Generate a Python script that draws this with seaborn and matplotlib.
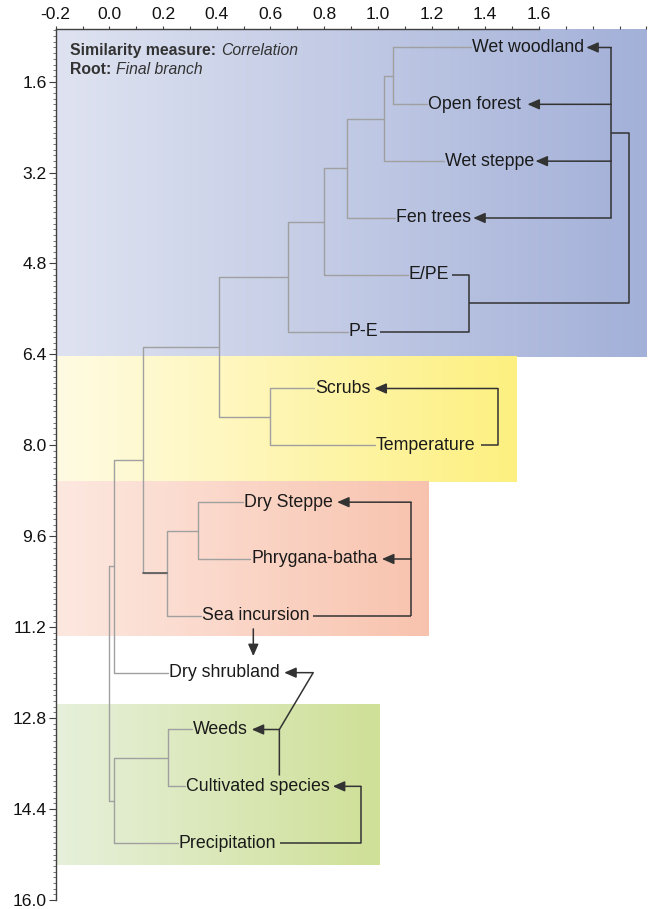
import numpy as np
import pandas as pd
import matplotlib
matplotlib.use("Agg")
import matplotlib.pyplot as plt
from matplotlib.ticker import MultipleLocator, FormatStrFormatter
import seaborn as sns

# Leaves of the dendrogram (top to bottom)
leaf_labels = ["Wet woodland", "Open forest", "Wet steppe", "Fen trees", "E/PE", "P-E",
               "Scrubs", "Temperature", "Dry Steppe", "Phrygana-batha", "Sea incursion",
               "Dry shrubland", "Weeds", "Cultivated species", "Precipitation"]
leaf_pos = [1, 2, 3, 4, 5, 6, 7, 8, 9, 10, 11, 12, 13, 14, 15]
leaf_tip = [1.347, 1.184, 1.247, 1.064, 1.111, 0.888, 0.763, 0.989, 0.496, 0.524,
            0.341, 0.219, 0.306, 0.281, 0.254]

# Merges: (child a, child b, similarity level); new nodes get ids 15, 16, ...
merge_a = [0, 15, 16, 17, 18, 6, 19, 8, 22, 21, 24, 12, 26, 25]
merge_b = [1, 2, 3, 4, 5, 7, 20, 9, 10, 23, 11, 13, 14, 27]
merge_h = [1.055, 1.024, 0.884, 0.800, 0.666, 0.600, 0.410, 0.330, 0.213, 0.124,
           0.018, 0.218, 0.018, 0.000]

# Shaded groups
band_top = [0.68, 6.44, 8.65, 12.55]
band_bottom = [6.44, 8.65, 11.36, 15.38]
band_right = [2.0, 1.514, 1.188, 1.005]
band_left_color = ["#dfe3f1", "#fffbe3", "#fde8e0", "#e6f0db"]
band_right_color = ["#a3b0d8", "#fdf080", "#f8c3ae", "#cfe097"]

x_ticks = [-0.2, 0.0, 0.2, 0.4, 0.6, 0.8, 1.0, 1.2, 1.4, 1.6]
y_ticks = [1.6, 3.2, 4.8, 6.4, 8.0, 9.6, 11.2, 12.8, 14.4, 16.0]

sns.set_theme(style="white")
plt.rcParams["font.family"] = ["Liberation Sans", "DejaVu Sans"]

fig = plt.figure(figsize=(6.49, 9.09), dpi=100)
ax = fig.add_axes([55.7 / 649, 9 / 909, (646.4 - 55.7) / 649, (900 - 29.3) / 909])

# Gradient bands
for y0, y1, xr, cl, cr in zip(band_top, band_bottom, band_right, band_left_color, band_right_color):
    c0 = np.array(matplotlib.colors.to_rgb(cl))
    c1 = np.array(matplotlib.colors.to_rgb(cr))
    t = np.linspace(0, 1, 256)[:, None]
    grad = (c0 * (1 - t) + c1 * t)[None, :, :]
    ax.imshow(grad, extent=[-0.2, xr, y1, y0], aspect="auto", zorder=0,
              interpolation="bilinear")

# Build dendrogram geometry
node_x = list(leaf_tip)
node_y = list(map(float, leaf_pos))
rows = []
for k, (a, b, h) in enumerate(zip(merge_a, merge_b, merge_h)):
    pts = [(node_x[a], node_y[a]), (h, node_y[a]), (h, node_y[b]), (node_x[b], node_y[b])]
    for i, (px, py) in enumerate(pts):
        rows.append({"x": px, "y": py, "seg": k, "order": i})
    node_x.append(h)
    node_y.append((node_y[a] + node_y[b]) / 2)
tree = pd.DataFrame(rows)

sns.lineplot(data=tree, x="x", y="y", units="seg", estimator=None, sort=False,
             color="#a0a0a0", lw=1.0, ax=ax, zorder=2, legend=False)

# Emphasised link between the dry-steppe cluster and its parent
dark = pd.DataFrame({"x": [node_x[24], node_x[23]], "y": [node_y[23], node_y[23]]})
sns.lineplot(data=dark, x="x", y="y", estimator=None, sort=False, color="#606060",
             lw=1.3, ax=ax, zorder=3)

# Leaf labels
for lab, tip, pos in zip(leaf_labels, leaf_tip, leaf_pos):
    ax.text(tip + 0.004, pos, lab, ha="left", va="center", fontsize=12.8,
            color="#1a1a1a", zorder=4)

# Relationship arrows and brackets
ink = "#333333"
line_kw = dict(color=ink, lw=1.1, zorder=3, solid_capstyle="butt")


def arrow(x0, y0, x1, y1):
    ax.annotate("", xy=(x1, y1), xytext=(x0, y0),
                arrowprops=dict(arrowstyle="-|>,head_length=0.55,head_width=0.24",
                                color=ink, lw=1.1, mutation_scale=13,
                                shrinkA=0, shrinkB=0), zorder=4)


brackets = [
    ([1.869, 1.869], [1.0, 4.0]),
    ([1.869, 1.936, 1.936, 1.34], [2.5, 2.5, 5.5, 5.5]),
    ([1.275, 1.34, 1.34, 1.008], [5.0, 5.0, 6.0, 6.0]),
    ([1.385, 1.446, 1.446], [8.0, 8.0, 7.0]),
    ([1.124, 1.124], [9.0, 11.0]),
    ([0.76, 1.124], [11.0, 11.0]),
    ([0.759, 0.633, 0.633], [12.0, 13.0, 13.81]),
    ([0.635, 0.937, 0.937], [15.0, 15.0, 14.0]),
]
for bx, by in brackets:
    ax.plot(bx, by, **line_kw)

arrows = [
    (1.869, 1.0, 1.776, 1.0),
    (1.869, 2.0, 1.557, 2.0),
    (1.869, 3.0, 1.587, 3.0),
    (1.869, 4.0, 1.355, 4.0),
    (1.446, 7.0, 0.987, 7.0),
    (1.124, 9.0, 0.848, 9.0),
    (1.124, 10.0, 1.015, 10.0),
    (0.536, 11.23, 0.536, 11.71),
    (0.759, 12.0, 0.651, 12.0),
    (0.633, 13.0, 0.530, 13.0),
    (0.937, 14.0, 0.832, 14.0),
]
for a in arrows:
    arrow(*a)

# Header note
t1 = ax.text(-0.147, 1.06, "Similarity measure:", fontsize=11.3, fontweight="bold",
             color="#333333", ha="left", va="center", zorder=5)
ax.annotate("Correlation", xy=(1, 0.5), xycoords=t1, xytext=(3.5, 0),
            textcoords="offset points", fontsize=11.3, fontstyle="italic",
            color="#333333", ha="left", va="center", zorder=5)
t2 = ax.text(-0.147, 1.39, "Root:", fontsize=11.3, fontweight="bold",
             color="#333333", ha="left", va="center", zorder=5)
ax.annotate("Final branch", xy=(1, 0.5), xycoords=t2, xytext=(3.5, 0),
            textcoords="offset points", fontsize=11.3, fontstyle="italic",
            color="#333333", ha="left", va="center", zorder=5)

# Axes
ax.set_xlim(-0.2, 2.0)
ax.set_ylim(16.0, 0.68)
ax.set_xlabel("")
ax.set_ylabel("")
ax.xaxis.tick_top()
ax.set_xticks(x_ticks)
ax.xaxis.set_minor_locator(MultipleLocator(0.1))
ax.xaxis.set_major_formatter(FormatStrFormatter("%.1f"))
ax.set_yticks(y_ticks)
ax.yaxis.set_minor_locator(MultipleLocator(0.1))
ax.yaxis.set_major_formatter(FormatStrFormatter("%.1f"))
ax.tick_params(axis="x", which="both", direction="out", top=True, bottom=False,
               length=2.5, width=0.8, color="#404040", pad=3, labelsize=12.6,
               labelcolor="#111111")
ax.tick_params(axis="y", which="major", direction="out", left=True, length=5,
               width=0.8, color="#404040", pad=1.5, labelsize=12.6, labelcolor="#111111")
ax.tick_params(axis="y", which="minor", direction="out", left=True, length=2.5,
               width=0.6, color="#606060")
for s in ("right", "bottom"):
    ax.spines[s].set_visible(False)
ax.spines["top"].set_bounds(-0.2, 1.6)
ax.spines["top"].set_color("#404040")
ax.spines["left"].set_color("#404040")
ax.spines["top"].set_linewidth(1.0)
ax.spines["left"].set_linewidth(1.0)
ax.set_facecolor("white")

fig.savefig("out.png", dpi=100, facecolor="white")
